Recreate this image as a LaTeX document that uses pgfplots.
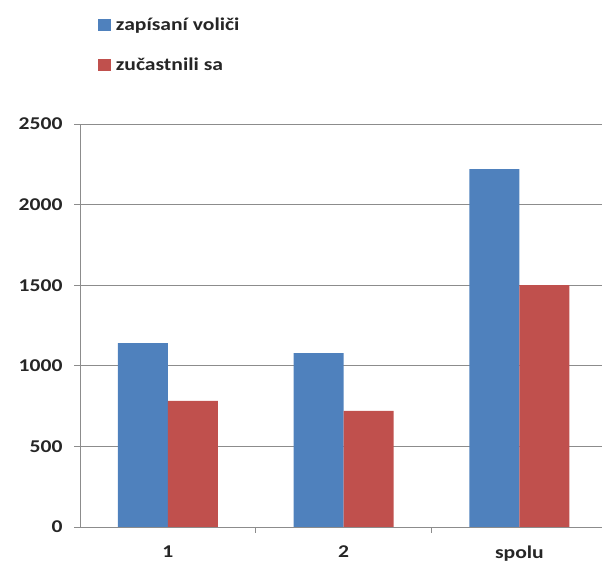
\documentclass[border=0pt]{standalone}
\usepackage{pgfplots}
\pgfplotsset{compat=1.18}
\usepackage{fontspec}
\setmainfont{Carlito}[FakeStretch=1.2]
\definecolor{xlblue}{HTML}{4F81BD}
\definecolor{xlred}{HTML}{C0504D}
\definecolor{gridgray}{HTML}{8C8C8C}
\begin{document}
\begin{tikzpicture}
\begin{axis}[
  at={(80pt,37pt)}, anchor=south west,
  scale only axis, width=522pt, height=403pt,
  ybar=0pt, bar width=50pt,
  xmin=-0.5, xmax=2.47, ymin=0, ymax=2500,
  ytick={0,500,...,2500},
  xtick={0.5,1.5}, xticklabels={},
  extra x ticks={0,1,2}, extra x tick labels={1,2,spolu},
  extra x tick style={major tick length=0pt, grid=none},
  axis x line*=bottom, axis y line*=left,
  axis line style={draw=gridgray, line width=0.8pt},
  x axis line style={-}, y axis line style={-},
  ymajorgrids, grid style={draw=gridgray, line width=0.8pt},
  tick style={draw=gridgray, line width=0.8pt},
  tick align=outside, major tick length=6pt,
  ticklabel style={font=\fontsize{18}{20}\selectfont\bfseries, text=black!85},
  /pgf/number format/assume math mode=true,
  /pgf/number format/1000 sep={},
  yticklabel style={xshift=-8pt},
  xticklabel style={yshift=-15pt},
  legend cell align=left,
  legend style={draw=none, at={(0.034,1.268)}, anchor=north west,
    font=\fontsize{18}{20}\selectfont\bfseries, text=black!85,
    row sep=22pt, inner sep=0pt},
  legend image code/.code={\fill[#1] (0pt,-6pt) rectangle (13pt,6pt);
    \path (16pt,0pt);},
]
\addplot[fill=xlblue, draw=none] coordinates {(0,1140) (1,1078) (2,2220)};
\addplot[fill=xlred, draw=none] coordinates {(0,783) (1,720) (2,1500)};
\legend{zapísaní voliči, zučastnili sa}
\end{axis}
\pgfresetboundingbox
\path[use as bounding box] (0,0) rectangle (602pt,564pt);
\end{tikzpicture}
\end{document}
